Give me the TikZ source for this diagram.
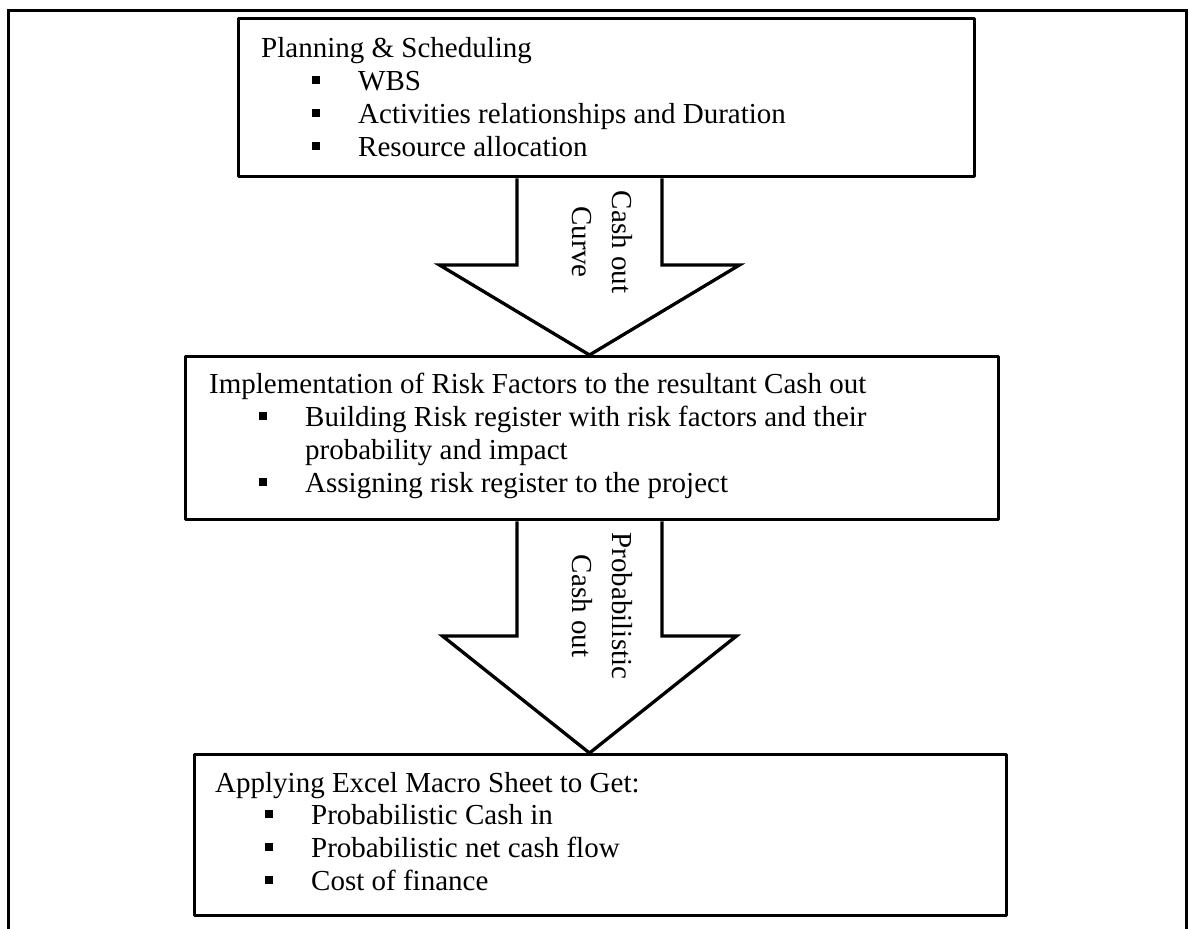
\documentclass[tikz,border=0pt]{standalone}
\usepackage{fontspec}
\setmainfont{Liberation Serif}
\usetikzlibrary{calc}
\newcommand{\sqbul}{\rule[6pt]{8pt}{8pt}\hspace{38pt}}
\begin{document}
\begin{tikzpicture}[x=1pt,y=1pt,
  frame/.style={draw, line width=3pt},
  box/.style={draw, line width=3.3pt, line join=round, inner sep=0pt, anchor=north west},
  txt/.style={inner sep=0pt, anchor=base west, font=\fontsize{29pt}{33pt}\selectfont},
  lbl/.style={inner sep=0pt, anchor=base, rotate=-90, font=\fontsize{29pt}{33pt}\selectfont},
  bigarrow/.style={draw, line width=3.3pt, line join=miter}]
\useasboundingbox (0,0) rectangle (1189,-929);
% outer frame
\draw[frame] (8,-929) -- (8,-10) -- (1186,-10) -- (1186,-929);

% boxes
\node[box, minimum width=736pt, minimum height=158pt] (box1) at (237,-17) {};
\node[box, minimum width=813pt, minimum height=163pt] (box2) at (184,-355) {};
\node[box, minimum width=812pt, minimum height=161pt] (box3) at (193,-753) {};

% box 1 text
\node[txt] (b1t1) at (261,-57) {Planning \& Scheduling};
\node[txt] (b1t2) at (312,-90) {\sqbul WBS};
\node[txt] (b1t3) at (312,-123) {\sqbul Activities relationships and Duration};
\node[txt] (b1t4) at (312,-156) {\sqbul Resource allocation};

% box 2 text
\node[txt] (b2t1) at (209,-393) {Implementation of Risk Factors to the resultant Cash out};
\node[txt] (b2t2) at (259,-426) {\sqbul Building Risk register with risk factors and their};
\node[txt] (b2t3) at (305,-459) {probability and impact};
\node[txt] (b2t4) at (259,-492) {\sqbul Assigning risk register to the project};

% box 3 text
\node[txt] (b3t1) at (215,-792) {Applying Excel Macro Sheet to Get:};
\node[txt] (b3t2) at (265,-824) {\sqbul Probabilistic Cash in};
\node[txt] (b3t3) at (265,-857) {\sqbul Probabilistic net cash flow};
\node[txt] (b3t4) at (265,-890) {\sqbul Cost of finance};

% arrow 1
\coordinate (h1) at (589.5,-265);
\draw[bigarrow] ($(box1.south -| h1)+(-72.5,0)$) -- ($(h1)+(-72.5,0)$) -- ($(h1)+(-150,0)$)
  -- (h1 |- box2.north) -- ($(h1)+(150,0)$) -- ($(h1)+(72.5,0)$) -- ($(box1.south -| h1)+(72.5,0)$);
\node[lbl] (l1a) at (612,-242) {Cash out};
\node[lbl] (l1b) at (572,-242) {Curve};

% arrow 2
\coordinate (h2) at (589.5,-636);
\draw[bigarrow] ($(box2.south -| h2)+(-72.5,0)$) -- ($(h2)+(-72.5,0)$) -- ($(h2)+(-147,0)$)
  -- (h2 |- box3.north) -- ($(h2)+(147,0)$) -- ($(h2)+(72.5,0)$) -- ($(box2.south -| h2)+(72.5,0)$);
\node[lbl] (l2a) at (612,-606) {Probabilistic};
\node[lbl] (l2b) at (572,-606) {Cash out};
\end{tikzpicture}
\end{document}
